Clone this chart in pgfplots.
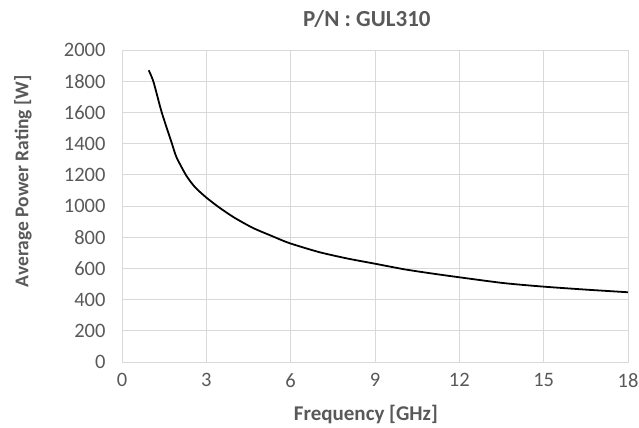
\documentclass[border=0pt]{standalone}
\usepackage{fontspec}
\setmainfont{Carlito}
\usepackage{pgfplots}
\pgfplotsset{compat=1.18}
\definecolor{txt}{HTML}{595959}
\definecolor{grd}{HTML}{D9D9D9}
\definecolor{axl}{HTML}{BFBFBF}
\begin{document}
\begin{tikzpicture}
\path[use as bounding box] (0,0) rectangle (639bp,428bp);
\begin{axis}[
  at={(122bp,66bp)}, anchor=south west,
  scale only axis, width=506bp, height=312bp,
  xmin=0, xmax=18, ymin=0, ymax=2000,
  xtick={0,3,...,18}, ytick={0,200,...,2000},
  grid=major, major grid style={grd, line width=0.8pt},
  axis line style={grd, line width=0.8pt},
  tick style={draw=none},
  /pgf/number format/assume math mode=true,
  /pgf/number format/1000 sep={},
  ticklabel style={font=\fontsize{20.5bp}{22bp}\selectfont, text=txt},
  yticklabel style={xshift=-13bp},
  xticklabel style={yshift=-8bp},
  xlabel={\textbf{Frequency [GHz]}},
  ylabel={\textbf{Average Power Rating [W]}},
  xlabel style={at={(axis description cs:0.482,-0.168)}, anchor=center, font=\fontsize{21bp}{23bp}\selectfont, text=txt},
  ylabel style={at={(axis description cs:-0.196,0.58)}, anchor=center, rotate=0, font=\fontsize{19.5bp}{22bp}\selectfont, text=txt},
  title={\textbf{P/N : GUL310}},
  title style={at={(axis description cs:0.484,1.08)}, anchor=center, font=\fontsize{23bp}{25bp}\selectfont, text=txt},
]
\addplot[black, line width=1.8pt, smooth, tension=0.4] coordinates {
(0.95,1870) (1.12,1796) (1.41,1602) (1.76,1409) (1.94,1312) (2.29,1194)
(2.6,1120) (3.0,1054) (3.47,989) (4.0,925) (4.65,860) (5.3,810)
(5.94,763) (7.0,705) (8.0,664) (9.0,630) (10.05,594) (11,568)
(12,543) (13.57,506) (15,483) (16.5,464) (18,447)
};
\draw[axl, line width=1pt] (axis cs:0,0) -- (axis cs:18,0);
\end{axis}
\end{tikzpicture}
\end{document}
